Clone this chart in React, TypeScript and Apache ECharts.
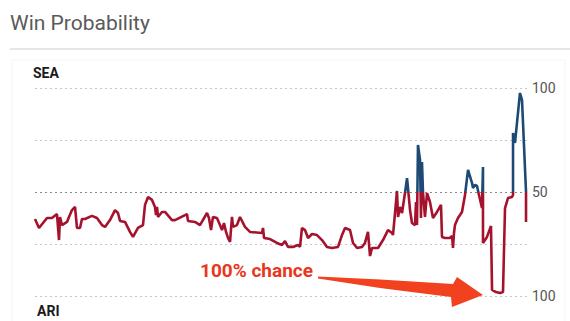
import React, { useEffect, useRef } from "react";
import * as echarts from "echarts";

// Game clock (minutes, incl. overtime) and Seattle win probability (%)
const minutes = [
  0, 0.61, 1.83, 2.59, 3.35, 3.66, 3.81, 4.12, 4.88, 5.18, 5.64, 6.1, 6.4, 6.86, 7.16, 7.62,
  8.69, 9.45, 10.21, 10.67, 11.43, 12.2, 12.65, 12.96, 13.72, 14.48, 14.94, 15.7, 16.46, 16.77,
  17.23, 17.84, 18.29, 18.45, 18.6, 18.75, 19.36, 19.82, 20.88, 21.34, 22.87, 23.17, 23.32,
  24.39, 25.15, 26.22, 26.52, 26.83, 27.13, 27.74, 28.2, 28.51, 28.81, 29.12, 29.42, 29.73,
  30.03, 30.18, 30.79, 31.25, 32.01, 32.77, 34.6, 34.76, 34.91, 35.82, 36.89, 37.65, 38.11,
  38.57, 39.33, 40.09, 40.4, 40.7, 41.16, 41.62, 42.23, 42.99, 43.75, 44.51, 45.27, 46.19,
  46.8, 47.26, 48.02, 48.48, 49.09, 49.85, 50.3, 50.76, 51.07, 51.37, 52.29, 53.05, 53.81,
  54.42, 54.57, 54.88, 55.18, 55.34, 55.64, 55.95, 56.4, 56.71, 56.86, 57.17, 57.47, 57.93,
  58.08, 58.23, 58.38, 58.69, 58.84, 58.99, 59.15, 59.45, 59.76, 60.21, 60.67, 61.28, 61.89,
  62.04, 62.5, 63.26, 63.57, 63.72, 63.87, 64.02, 64.48, 65.09, 65.55, 66.01, 66.62, 66.77,
  67.07, 67.38, 67.68, 68.14, 68.29, 68.29, 68.9, 69.51, 69.67, 70.27, 70.88, 71.34, 71.65,
  72.1, 72.71, 72.87, 72.87, 73.17, 73.93, 74.24, 74.85, 74.85,
];
const seaWinPct = [
  37.0, 32.7, 37.5, 37.5, 39.4, 26.9, 38.0, 34.1, 35.6, 38.0, 41.3, 42.8, 32.7, 32.7, 37.0, 37.0,
  38.5, 37.5, 34.1, 33.2, 36.5, 41.3, 39.9, 36.1, 35.6, 30.8, 28.4, 32.7, 34.1, 43.8,
  47.6, 46.2, 42.8, 38.9, 42.8, 38.0, 40.4, 40.4, 36.5, 36.5, 38.9, 39.4, 36.1,
  35.6, 34.1, 39.9, 37.5, 31.7, 38.0, 37.5, 34.1, 31.7, 35.1, 30.8, 27.9, 26.0,
  38.0, 33.2, 34.1, 38.0, 33.2, 30.8, 30.3, 32.7, 27.9, 27.4, 25.5, 24.5, 26.4,
  23.6, 23.6, 24.5, 23.6, 32.7, 31.7, 27.9, 29.8, 29.3, 26.9, 23.6, 23.1, 23.6,
  29.3, 32.7, 31.7, 25.5, 23.1, 23.6, 25.5, 30.8, 19.2, 23.1, 23.1, 26.9, 31.7,
  30.3, 29.3, 39.9, 50.5, 38.0, 42.8, 39.9, 49.5, 56.7, 51.9, 41.3, 35.1, 34.1,
  45.2, 34.1, 72.6, 65.4, 37.5, 64.4, 49.5, 38.0, 49.5, 45.2, 37.5, 40.4, 43.8,
  28.4, 27.9, 27.9, 28.9, 23.1, 30.3, 34.1, 37.5, 40.4, 48.6, 60.6, 54.3, 51.9,
  53.4, 52.9, 48.6, 42.3, 62.0, 25.5, 28.4, 33.7, 2.9, 1.9, 1.4, 1.9, 42.3,
  47.1, 47.6, 48.6, 78.4, 73.6, 97.6, 94.2, 50.0, 35.6,
];
const yTicks = [0, 25, 50, 75, 100];
const yTickLabels = ["100", "", "50", "", "100"];

const RED = "#a5122d";
const BLUE = "#1c4a74";

const GRID_TOP = 88;
const GRID_BOTTOM = 25;
const H = 321;

export default function App() {
  const ref = useRef<HTMLDivElement>(null);
  useEffect(() => {
    if (!ref.current) return;
    const chart = echarts.init(ref.current, null, { renderer: "svg" });
    const data = minutes.map((m, i) => [m, seaWinPct[i]]);
    const splitColor = new echarts.graphic.LinearGradient(
      0,
      GRID_TOP,
      0,
      H - GRID_BOTTOM,
      [
        { offset: 0, color: BLUE },
        { offset: 0.5, color: BLUE },
        { offset: 0.5, color: RED },
        { offset: 1, color: RED },
      ],
      true
    );
    chart.setOption({
      animation: false,
      backgroundColor: "#fff",
      grid: { left: 35, right: 43, top: GRID_TOP, bottom: GRID_BOTTOM },
      xAxis: { type: "value", min: 0, max: 75, show: false },
      yAxis: {
        type: "value",
        position: "right",
        min: 0,
        max: 100,
        interval: 25,
        axisLine: { show: false },
        axisTick: { show: false },
        axisLabel: {
          margin: 5,
          color: "#555",
          fontSize: 14,
          fontFamily: "Roboto",
          formatter: (v: number) => yTickLabels[yTicks.indexOf(v)] ?? "",
        },
        splitLine: {
          lineStyle: {
            type: [2, 3],
            width: 1,
            color: ["#c8c8c8", "#c8c8c8", "#8a8a8a", "#c8c8c8", "#c8c8c8"],
          },
        },
      },
      series: [
        {
          type: "line",
          data,
          showSymbol: false,
          lineStyle: { width: 2.6, color: splitColor },
          z: 5,
        },
      ],
      graphic: [
        {
          type: "rect",
          shape: { x: 12, y: 60, width: 553, height: 270 },
          style: { fill: "none", stroke: "#f5f5f5", lineWidth: 1 },
          z: -1,
        },
        {
          type: "text",
          x: 10,
          y: 23,
          style: {
            text: "Win Probability",
            fill: "#5a5a5a",
            font: "21px Roboto",
            verticalAlign: "middle",
          },
        },
        {
          type: "line",
          shape: { x1: 10, y1: 49, x2: 570, y2: 49 },
          style: { stroke: "#e6e6e6", lineWidth: 2 },
        },
        {
          type: "text",
          x: 33,
          y: 73,
          style: {
            text: "SEA",
            fill: "#1a1a1a",
            font: "bold 14px Roboto",
            verticalAlign: "middle",
          },
        },
        {
          type: "text",
          x: 37,
          y: 311,
          style: {
            text: "ARI",
            fill: "#1a1a1a",
            font: "bold 14px Roboto",
            verticalAlign: "middle",
          },
        },
        {
          type: "polygon",
          shape: {
            points: [
              [318, 276.5],
              [380, 279.5],
              [453, 284],
              [457, 277],
              [483, 295],
              [452, 307],
              [451, 297],
              [380, 288],
              [318, 278.5],
            ],
          },
          style: { fill: "#f2411f" },
          z: 20,
        },
        {
          type: "text",
          x: 200,
          y: 270,
          style: {
            text: "100% chance",
            fill: "#e8371c",
            font: "bold 19px Roboto",
            verticalAlign: "middle",
            stroke: "#fff",
            lineWidth: 3,
            shadowColor: "rgba(0,0,0,0.45)",
            shadowBlur: 2,
            shadowOffsetX: 1,
            shadowOffsetY: 1,
          },
          z: 21,
        },
      ],
    });
    return () => chart.dispose();
  }, []);
  return (
    <div
      ref={ref}
      style={{ position: "absolute", left: 0, top: 0, width: 570, height: 321 }}
    />
  );
}
